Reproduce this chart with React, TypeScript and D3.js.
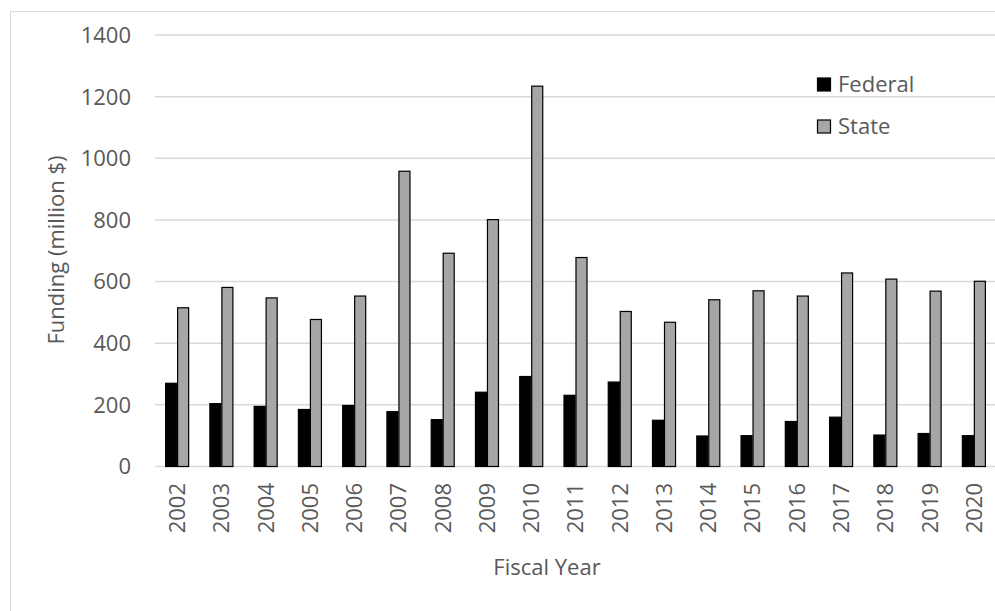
import React from 'react';
import * as d3 from 'd3';

const years = ['2002','2003','2004','2005','2006','2007','2008','2009','2010','2011','2012','2013','2014','2015','2016','2017','2018','2019','2020'];
const federal = [270, 204, 195, 185, 198, 178, 152, 241, 292, 231, 274, 150, 99, 100, 146, 160, 102, 107, 100];
const state = [515, 581, 547, 477, 553, 958, 692, 801, 1234, 678, 503, 468, 541, 570, 553, 628, 608, 569, 601];
const yTicks = [0, 200, 400, 600, 800, 1000, 1200, 1400];
const seriesNames = ['Federal', 'State'];

const W = 995;
const H = 611;
const FONT = 'Open Sans, sans-serif';
const TEXT = '#595959';
const GRID = '#d9d9d9';
const FS = 22;

export default function App() {
  const x0 = d3.scaleBand<string>().domain(years).range([155, 996]).paddingInner(0.48).paddingOuter(0.24);
  const x1 = d3.scaleBand<string>().domain(seriesNames).range([0, x0.bandwidth()]).paddingInner(0.08);
  const y = d3.scaleLinear().domain([0, 1400]).range([466.5, 35]);
  const colors: Record<string, string> = { Federal: '#000000', State: '#a6a6a6' };
  const data: Record<string, number[]> = { Federal: federal, State: state };

  return (
    <svg width={W} height={H} style={{ position: 'absolute', left: 0, top: 0, background: '#fff' }}>
      <rect x={10.5} y={11.5} width={990} height={640} fill="#fff" stroke={GRID} strokeWidth={1} />
      {yTicks.map((t) => (
        <g key={t}>
          <line x1={155} x2={996} y1={y(t)} y2={y(t)} stroke={GRID} strokeWidth={1.5} />
          <text x={131} y={y(t)} dy="0.36em" textAnchor="end" fontFamily={FONT} fontSize={FS} fill={TEXT}>{t}</text>
        </g>
      ))}
      {years.map((yr, i) => (
        <g key={yr}>
          {seriesNames.map((s) => {
            const v = data[s][i];
            const bx = (x0(yr) as number) + (x1(s) as number);
            return (
              <rect key={s} x={bx} y={y(v)} width={x1.bandwidth()} height={y(0) - y(v)}
                fill={colors[s]} stroke="#000" strokeWidth={1.2} />
            );
          })}
          <text transform={`translate(${(x0(yr) as number) + x0.bandwidth() / 2},${483}) rotate(-90)`}
            textAnchor="end" dy="0.36em" fontFamily={FONT} fontSize={FS} fill={TEXT}>{yr}</text>
        </g>
      ))}
      <text x={547} y={575} textAnchor="middle" fontFamily={FONT} fontSize={FS} fill={TEXT}>Fiscal Year</text>
      <text transform={`translate(64,${250}) rotate(-90)`} textAnchor="middle" fontFamily={FONT} fontSize={FS} fill={TEXT}>Funding (million $)</text>
      {seriesNames.map((s, i) => (
        <g key={s}>
          <rect x={817.5} y={78 + i * 42} width={13} height={13} fill={colors[s]} stroke="#000" strokeWidth={1.2} />
          <text x={838} y={92 + i * 42} fontFamily={FONT} fontSize={FS} fill={TEXT}>{s}</text>
        </g>
      ))}
    </svg>
  );
}
